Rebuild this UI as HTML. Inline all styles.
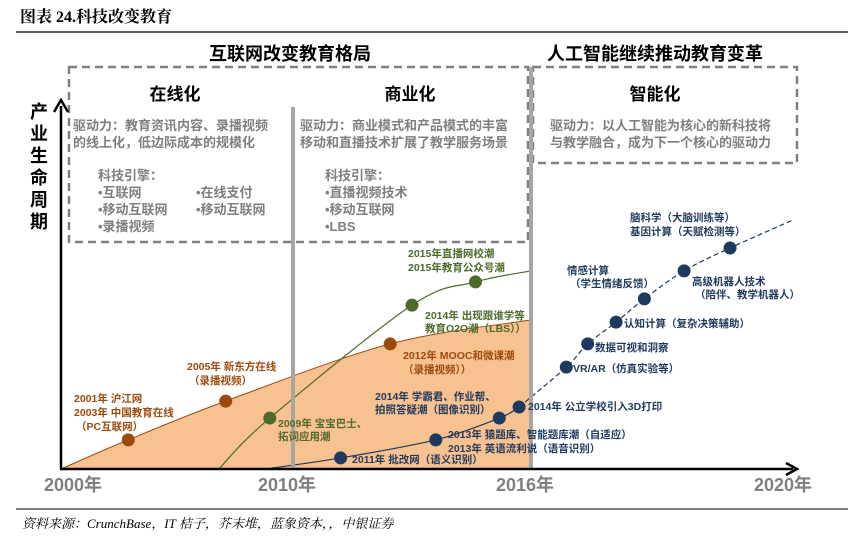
<!DOCTYPE html>
<html><head><meta charset="utf-8"><style>
body{margin:0;background:#fff;}
svg{display:block;font-family:"Liberation Sans","Noto Sans CJK SC",sans-serif;}
.g{fill:#7f7f7f;font-weight:bold;font-size:13px;}
.h{fill:#000;font-weight:bold;}
.o{fill:#9c4a0c;font-weight:bold;font-size:10.5px;}
.gr{fill:#4e6a2a;font-weight:bold;font-size:10.5px;}
.n{fill:#1f3a5f;font-weight:bold;font-size:10.5px;}
</style></head><body>
<svg id="chart" width="859" height="549" viewBox="0 0 859 549">
<text x="20" y="22" style="font-family:'Liberation Serif','Noto Serif CJK SC',serif;font-weight:bold;font-size:16px;">图表 24.科技改变教育</text>
<line x1="16" y1="32" x2="848" y2="32" stroke="#000" stroke-width="1.2"/>
<text class="h" x="290" y="60" font-size="18" text-anchor="middle">互联网改变教育格局</text>
<text class="h" x="655" y="60" font-size="18" text-anchor="middle">人工智能继续推动教育变革</text>
<g id="marks"></g>
<rect x="69" y="67" width="459" height="175" fill="none" stroke="#808080" stroke-width="2.5" stroke-dasharray="8,5"/>
<rect x="533" y="67" width="264" height="96" fill="none" stroke="#808080" stroke-width="2.5" stroke-dasharray="8,5"/>
<line x1="293" y1="107" x2="293" y2="469" stroke="#a6a6a6" stroke-width="4"/>
<line x1="531" y1="67" x2="531" y2="469" stroke="#a6a6a6" stroke-width="4"/>
<text class="h" x="175" y="100" font-size="17" text-anchor="middle">在线化</text>
<text class="h" x="410" y="100" font-size="17" text-anchor="middle">商业化</text>
<text class="h" x="655" y="100" font-size="17" text-anchor="middle">智能化</text>
<text class="g" x="73" y="130">驱动力：教育资讯内容、录播视频<tspan x="73" dy="17">的线上化，低边际成本的规模化</tspan></text>
<text class="g" x="300" y="130">驱动力：商业模式和产品模式的丰富<tspan x="300" dy="17">移动和直播技术扩展了教学服务场景</tspan></text>
<text class="g" x="550" y="130">驱动力：以人工智能为核心的新科技将<tspan x="550" dy="17">与教学融合，成为下一个核心的驱动力</tspan></text>
<text class="g" x="98" y="180">科技引擎：<tspan x="98" dy="17">•互联网</tspan><tspan x="98" dy="17">•移动互联网</tspan><tspan x="98" dy="17">•录播视频</tspan></text>
<text class="g" x="196" y="197">•在线支付<tspan x="196" dy="17">•移动互联网</tspan></text>
<text class="g" x="325" y="180">科技引擎：<tspan x="325" dy="17">•直播视频技术</tspan><tspan x="325" dy="17">•移动互联网</tspan><tspan x="325" dy="17">•LBS</tspan></text>
<text class="h" font-size="18" x="39" y="118" text-anchor="middle">产<tspan x="39" dy="22">业</tspan><tspan x="39" dy="22">生</tspan><tspan x="39" dy="22">命</tspan><tspan x="39" dy="22">周</tspan><tspan x="39" dy="22">期</tspan></text>
<line x1="61" y1="469" x2="61" y2="106" stroke="#000" stroke-width="2.5"/>
<path d="M54,112 L61,100 L68,112" fill="none" stroke="#000" stroke-width="2.5"/>
<line x1="60" y1="469" x2="793" y2="469" stroke="#000" stroke-width="2.5"/>
<path d="M786,463 L797,469 L786,475" fill="none" stroke="#000" stroke-width="2.5"/>
<g id="ticks"></g>
<g id="labels"></g>
<line x1="16" y1="509" x2="848" y2="509" stroke="#000" stroke-width="1"/>
<text x="22" y="528" font-size="13" font-style="italic" style="font-family:'Liberation Serif','Noto Serif CJK SC',serif;">资料来源：CrunchBase，IT 桔子，芥末堆，蓝象资本，，中银证券</text>
</svg>
<script>
const tickYears=[2000,2010,2016,2020];
const tickLabels=["2000年","2010年","2016年","2020年"];
const orangeYears=[2000,2002.9,2007.1,2012.45,2016];
const orangeLevels=[0,7.9,18.4,33.9,40.4];
const greenYears=[2006.8,2009.0,2013.0,2014.6,2016];
const greenLevels=[0,13.8,44.4,50.7,53.7];
const navyYears=[2008.8,2011.2,2013.6,2015.2,2015.7];
const navyLevels=[0,3,7.9,13.8,16.8];
const aiYears=[2015.7,2016.56,2016.9,2017.35,2017.8,2018.43,2019.16,2020.16];
const aiLevels=[16.8,27.6,33.9,39.8,46.1,53.7,59.9,67.5];
const orangeDots=[1,2,3];const greenDots=[1,2,3];const navyDots=[1,2,3,4];const aiDots=[1,2,3,4,5,6];
const NS="http://www.w3.org/2000/svg";
const ax=[2000,2010,2016,2020],px=[61,293,531,783];
function xs(y){for(let i=0;i<3;i++){if(y<=ax[i+1]||i==2){return px[i]+(y-ax[i])*(px[i+1]-px[i])/(ax[i+1]-ax[i]);}}}
function ys(v){return 469-v*3.69;}
function pts(X,Y){return X.map((x,i)=>[xs(x),ys(Y[i])]);}
function smooth(p){let d="M"+p[0][0]+","+p[0][1];for(let i=0;i<p.length-1;i++){const p0=p[i-1]||p[i],p1=p[i],p2=p[i+1],p3=p[i+2]||p2;const c1=[p1[0]+(p2[0]-p0[0])/6,p1[1]+(p2[1]-p0[1])/6],c2=[p2[0]-(p3[0]-p1[0])/6,p2[1]-(p3[1]-p1[1])/6];d+=" C"+c1+" "+c2+" "+p2;}return d;}
const marks=document.getElementById('marks');
function mk(tag,at,parent){const e=document.createElementNS(NS,tag);for(const k in at)e.setAttribute(k,at[k]);(parent||marks).appendChild(e);return e;}
const op=pts(orangeYears,orangeLevels);
const area=mk('path',{d:smooth(op)+" L"+xs(2016)+",469 Z",fill:"#f8c190",stroke:"#9c4a0c","stroke-width":1});


const gp=pts(greenYears,greenLevels);
const gl=mk('path',{d:smooth(gp),fill:"none",stroke:"#4e6a2a","stroke-width":1.2});


const np=pts(navyYears,navyLevels);
const nl=mk('path',{d:smooth(np),fill:"none",stroke:"#1f3a5f","stroke-width":1.2});


const ap=pts(aiYears,aiLevels);
const al=mk('path',{d:smooth(ap),fill:"none",stroke:"#1f3a5f","stroke-width":1.2,"stroke-dasharray":"5,3"});


function dots(p,idx,col,name){idx.forEach(i=>{const c=mk('circle',{cx:p[i][0],cy:p[i][1],r:6.5,fill:col});

});}
dots(op,orangeDots,"#9c4a0c","online");dots(gp,greenDots,"#4e6a2a","commercial");dots(np,navyDots,"#1f3a5f","ai");dots(ap,aiDots,"#1f3a5f","ai-future");
const tg=document.getElementById('ticks');
tickYears.forEach((y,i)=>{const t=mk('text',{x:xs(y)+(i==0?12:(i==3?0:-6)),y:491,"text-anchor":"middle","font-size":18,"font-weight":"bold",fill:"#7f7f7f"},tg);t.textContent=tickLabels[i];

});
const L=[["o",74,402,"2001年 沪江网"],["o",74,416,"2003年 中国教育在线"],["o",76,430,"（PC互联网）"],["o",187,370,"2005年 新东方在线"],["o",189,384,"（录播视频）"],["o",403,359,"2012年 MOOC和微课潮"],["o",403,373,"（录播视频））"],
["gr",408,257,"2015年直播网校潮"],["gr",408,271,"2015年教育公众号潮"],["gr",425,319,"2014年 出现跟谁学等"],["gr",425,332,"教育O2O潮（LBS））"],["gr",278,427,"2009年 宝宝巴士、"],["gr",278,440,"拓词应用潮"],
["n",375,400,"2014年 学霸君、作业帮、"],["n",375,413,"拍照答疑潮（图像识别）"],["n",352,463,"2011年 批改网（语义识别）"],["n",448,438,"2013年 猿题库、智能题库潮（自适应）"],["n",448,452,"2013年 英语流利说（语音识别）"],["n",528,410,"2014年 公立学校引入3D打印"],["n",573,372,"VR/AR（仿真实验等）"],["n",595,351,"数据可视和洞察"],["n",624,327,"认知计算（复杂决策辅助）"],["n",567,274,"情感计算"],["n",570,287,"（学生情绪反馈）"],["n",692,285,"高级机器人技术"],["n",695,298,"（陪伴、教学机器人）"],["n",630,221,"脑科学（大脑训练等）"],["n",630,235,"基因计算（天赋检测等）"]];
const lg=document.getElementById('labels');
L.forEach(l=>{const t=mk('text',{class:l[0],x:l[1],y:l[2]},lg);t.textContent=l[3];

});
</script>
</body></html>
